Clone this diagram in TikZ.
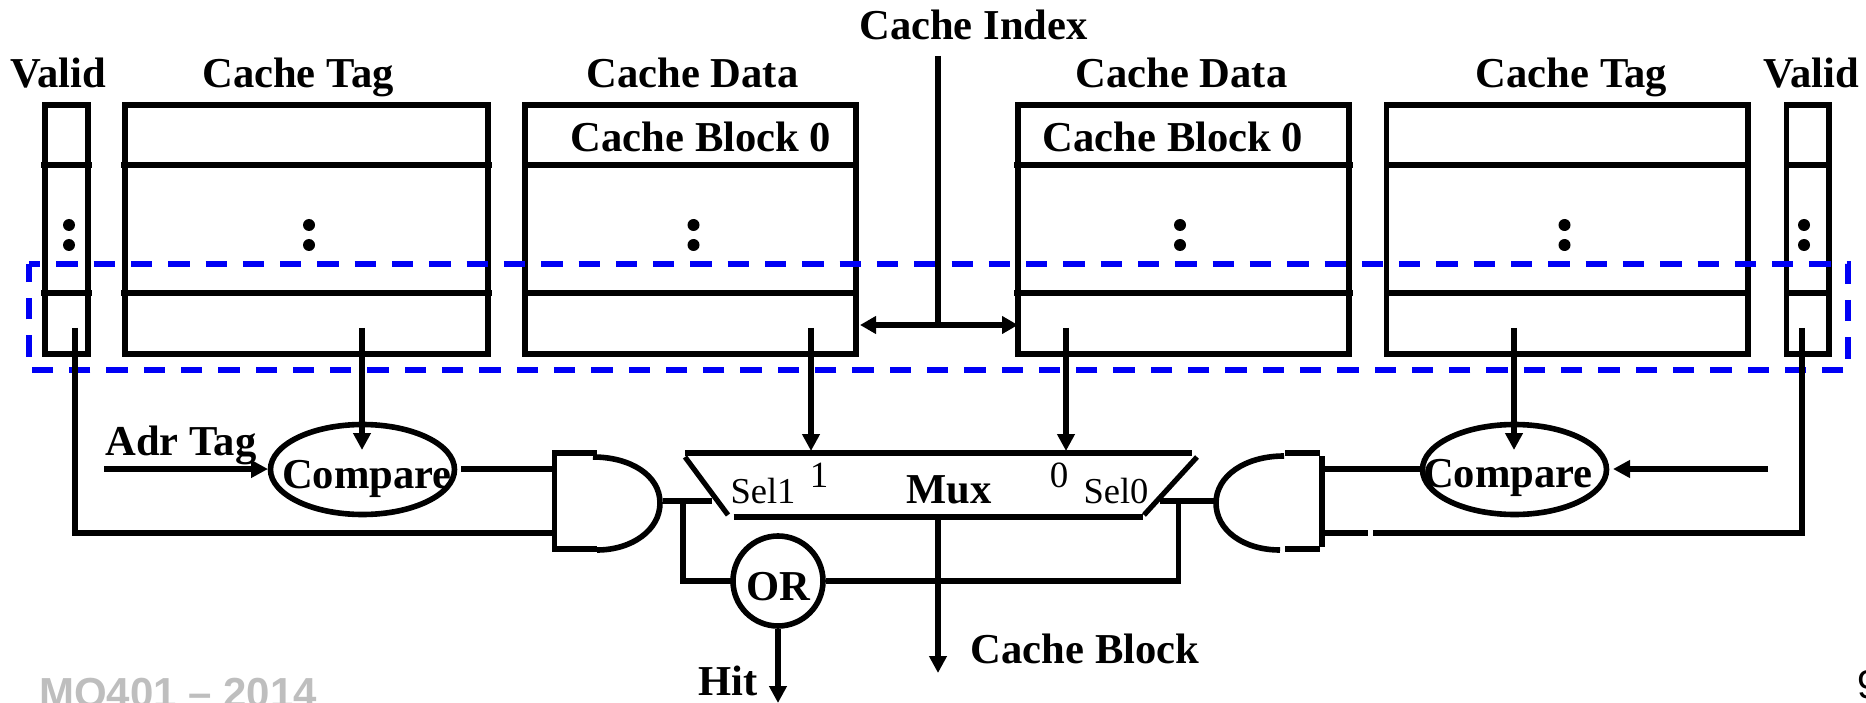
\documentclass[tikz,border=0pt]{standalone}
\usepackage{fontspec}
\setmainfont{Liberation Serif}
\newfontfamily\footfont{Liberation Sans}
\usetikzlibrary{positioning}
\usetikzlibrary{arrows.meta}
\usetikzlibrary{shapes.geometric,calc}
\definecolor{selblue}{RGB}{0,0,245}
\definecolor{footgray}{RGB}{190,190,190}
\tikzset{
  wire/.style={line width=5.2pt},
  heavy/.style={line width=5.6pt},
  tip/.style={-{Triangle[width=17pt,length=17pt]}},
  cellbox/.style={draw,heavy,inner sep=0pt,outer sep=0pt,minimum height=249pt},
  cmpshape/.style={draw,ellipse,heavy,inner sep=0pt,outer sep=2.5pt,minimum width=184pt,minimum height=90pt},
  lab/.style={anchor=base,inner sep=0pt,font=\fontsize{42.6pt}{50pt}\selectfont\bfseries},
  sellab/.style={anchor=base,inner sep=0pt,font=\fontsize{36.5pt}{42pt}\selectfont},
  numlab/.style={anchor=base,inner sep=0pt,font=\fontsize{37pt}{44pt}\selectfont}
}
% two row lines of one array
\newcommand*{\CellRows}[2]{\foreach \rowy in {165,293}
  \draw[heavy] ([xshift=-#2pt]#1.west |- 0,\rowy) -- ([xshift=#2pt]#1.east |- 0,\rowy);}

\begin{document}
\begin{tikzpicture}[x=1pt,y=-1pt]
\useasboundingbox (0,0) rectangle (1866,703);
\clip (0,0) rectangle (1866,703);

% Arrays
\node[cellbox,minimum width=43pt] (validL) at (66.5,229.5) {};
\node[cellbox,minimum width=363pt] (tagL) at (306.5,229.5) {};
\node[cellbox,minimum width=331pt] (dataL) at (690.5,229.5) {};
\node[cellbox,minimum width=331pt] (dataR) at (1183.5,229.5) {};
\node[cellbox,minimum width=361.5pt] (tagR) at (1567.25,229.5) {};
\node[cellbox,minimum width=42.5pt] (validR) at (1807.75,229.5) {};
\CellRows{validL}{4}
\CellRows{tagL}{4}
\CellRows{dataL}{0}
\CellRows{dataR}{4}
\CellRows{tagR}{0}
\CellRows{validR}{0}
\foreach \dotx in {69,309,693.5,1180,1564.5,1804} {
  \fill (\dotx,225) circle (6pt);
  \fill (\dotx,245) circle (6pt);
}

% Selected set
\draw[selblue,heavy,dash pattern=on 21.3pt off 16pt,dash phase=10pt]
  (29,264) -- (1848,264) -- (1848,370) -- (29,370) -- cycle;

% Headings
\node[lab] (validLtxt) at (58,88) {Valid};
\node[lab] (tagLtxt) at (298,88) {Cache Tag};
\node[lab] (dataLtxt) at (692.5,88) {Cache Data};
\node[lab] (indextxt) at (973.5,40) {Cache Index};
\node[lab] (dataRtxt) at (1181.5,88) {Cache Data};
\node[lab] (tagRtxt) at (1571.5,88) {Cache Tag};
\node[lab] (validRtxt) at (1811.5,88) {Valid};
\node[lab] (blockL) at (701,152) {Cache Block 0};
\node[lab] (blockR) at (1173,152) {Cache Block 0};

% Index
\coordinate (indexin) at (938,56);
\coordinate (indexbus) at (938,325);
\draw[wire] (indexin) -- (indexbus);
\draw[wire,{Triangle[width=17pt,length=16pt]}-{Triangle[width=17pt,length=16pt]}] (dataL.east |- indexbus) ++(4,0) -- (dataR.west |- indexbus);

% Comparators
\node[cmpshape] (cmpL) at (362.5,469.5) {};
\node[cmpshape] (cmpR) at (1514.5,469.5) {};
\node[lab] (cmpLtxt) at (367,488) {Compare};
\node[lab] (cmpRtxt) at (1508,487) {Compare};
\node[lab] (adrtxt) at (181,455) {Adr Tag};

% AND gates
\coordinate (andLtop) at (552,453);
\coordinate (andLbot) at (552,549);
\coordinate (andRtop) at (1322,453);
\coordinate (andRbot) at (1322,549);
\draw[heavy] (597,453) -- (554.5,453) -- (554.5,549) -- (597,549);
\draw[heavy] (593,457) .. controls (630,457) and (660,475) .. (660,503) .. controls (660,530) and (632,550) .. (597,550);
\draw[heavy] (1285,453) -- (1320,453);
\draw[heavy] (1285,549) -- (1320,549);
\draw[heavy] (1322,456) -- (1322,547);
\draw[heavy] (1284,456) .. controls (1245,456) and (1216,476) .. (1216,503) .. controls (1216,530) and (1243,550) .. (1280,550);

% Mux
\coordinate (muxTL) at (685,453);
\coordinate (muxTR) at (1191.5,453);
\coordinate (muxSL) at (685,457);
\coordinate (muxSR) at (1197,457);
\coordinate (muxBL) at (728,515);
\coordinate (muxBR) at (1144,515);
\draw[heavy] (muxTL) -- (muxTR);
\draw[wire] (muxSL) -- (muxBL);
\draw[wire] (muxSR) -- (muxBR);
\draw[heavy] (733.5,517) -- (1143,517);
\node[sellab] (sel1) at (763,503) {Sel1};
\node[sellab] (sel0) at (1116,503) {Sel0};
\node[numlab] (one) at (819,487) {1};
\node[numlab] (zero) at (1059,487) {0};
\node[lab] (muxtxt) at (949,503) {Mux};

% OR gate
\node[draw,circle,heavy,inner sep=0pt,outer sep=2.5pt,minimum size=90pt] (orgate) at (778,581) {};
\node[lab] (ortxt) at (778,600) {OR};

% Free ends
\coordinate (validLout) at (75,328);
\coordinate (tagLout) at (362,328);
\coordinate (dataLout) at (811,328);
\coordinate (dataRout) at (1066,328);
\coordinate (tagRout) at (1514,328);
\coordinate (validRout) at (1802,328);
\coordinate (adrin) at (104,469);
\coordinate (adrinR) at (1768,469);
\coordinate (hitout) at (778,703);
\coordinate (blockout) at (938,673);

% Arrows
\draw[wire,tip] (tagLout) -- (362,450);
\draw[wire,tip] (tagRout) -- (1514,450);
\draw[wire,tip] (dataLout) -- (811,451);
\draw[wire,tip] (dataRout) -- (1066,451);
\draw[wire,tip] (adrin) -- (cmpL.west |- adrin);
\draw[wire,tip] (adrinR) -- (1613,469);
\draw[wire] (461,469) -- (andLtop |- 461,469);
\draw[wire] (andRtop |- 0,469) -- (cmpR.west |- 0,469);
\draw[wire] (validLout) -- (75,533) -- (andLbot |- 0,533);
\draw[wire] (validRout) -- (1802,533) -- (1373,533);
\draw[wire] (1367.5,533) -- (andRbot |- 0,533);

% Select lines
\coordinate (selL) at (712,501);
\coordinate (selR) at (1160,501);
\draw[wire] (663,501) -- (selL);
\draw[wire] (selR) -- (1217,501);
\draw[wire] (683,501) -- (683,581) -- (orgate.west);
\draw[wire] (1178.5,501) -- (1178.5,581) -- (orgate.east);
\draw[wire,tip] (orgate.south) -- (hitout);
\draw[wire,tip] (938,519) -- (blockout);

% Bottom texts
\node[lab] (hittxt) at (728,695) {Hit};
\node[lab] (blocktxt) at (1085,663) {Cache Block};
\node[anchor=base west,inner sep=0pt,text=footgray,font=\fontsize{42pt}{50pt}\footfont\bfseries] (course) at (39,707) {MO401 – 2014};
\node[anchor=base west,inner sep=0pt,font=\fontsize{40pt}{48pt}\footfont] (pagenum) at (1857,698) {9};
\end{tikzpicture}
\end{document}
